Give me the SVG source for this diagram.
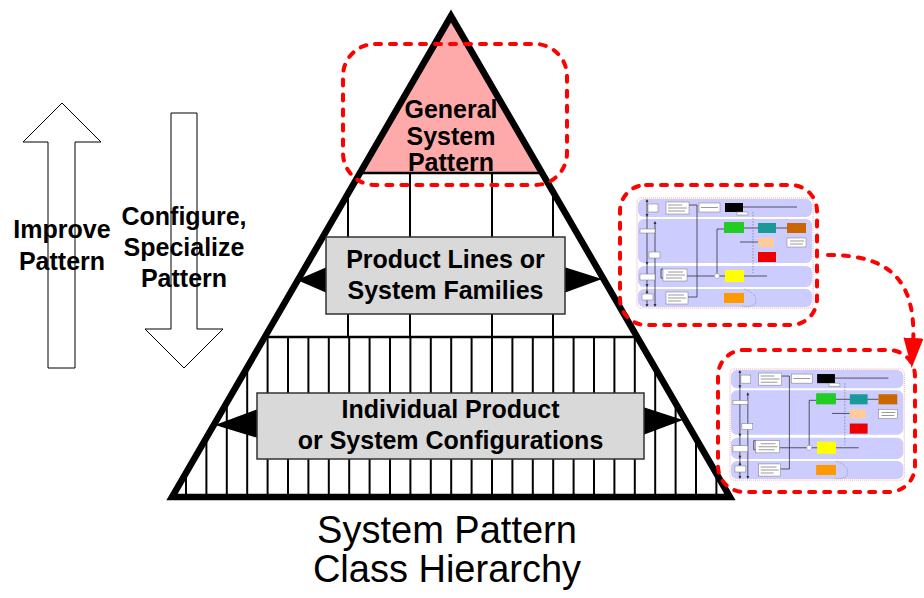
<svg xmlns="http://www.w3.org/2000/svg" width="924" height="598" viewBox="0 0 924 598">
<style>
  .b{font-family:"Liberation Sans",Arial,sans-serif;font-weight:bold;fill:#000;text-anchor:middle}
  .lbl{font-size:25px}
  .side{font-size:25px}
  .cap{font-family:"Liberation Sans",Arial,sans-serif;font-size:38px;text-anchor:middle;fill:#000}
  .box{fill:#D9D9D9;stroke:#333;stroke-width:1.5}
  .hollow{fill:#fff;stroke:#000;stroke-width:1}
  .reddash{fill:none;stroke:#FF0000;stroke-width:4;stroke-dasharray:6 9;stroke-linecap:round}
  .band{fill:#CCCCFF}
  .tl{stroke:#333;stroke-width:0.8;fill:none}
  .wb{fill:#fff;stroke:#777;stroke-width:0.5}
  .tx{stroke:#9a9a9a;stroke-width:1;fill:none}
  .head{fill:#000}
</style>
<defs>
  <clipPath id="tri">
    <polygon points="451,16 172,497 730,497"/>
  </clipPath>
  <marker id="redhead" markerUnits="userSpaceOnUse" viewBox="0 0 30 20" refX="8" refY="10" markerWidth="30" markerHeight="20" orient="auto">
    <path d="M0,0 L30,10 L0,20 z" fill="#FF0000"/>
  </marker>
  <g id="thumb">
    <rect x="0" y="0" width="176" height="110" rx="4" fill="#fff" stroke="#F09090" stroke-width="0.8" stroke-dasharray="1 1"/>
    <rect class="band" x="1" y="1" width="174" height="18" rx="6"/>
    <rect class="band" x="1" y="21" width="174" height="44" rx="6"/>
    <rect class="band" x="1" y="68" width="174" height="21" rx="6"/>
    <rect class="band" x="1" y="91" width="174" height="18" rx="6"/>
    <path class="tl" d="M10 2V108 M18 24V108 M52 7H60V99H51 M106 9H160 M107 30H150 M103 44H121 M50 78H130 M80 31V78 M80 31H87 M26 71H24V80H26"/>
    <path d="M116 14V75" stroke="#666" stroke-width="0.6" stroke-dasharray="1.5 1.5" fill="none"/>
    <path d="M107 91 Q122 96 118 106 Q112 110 105 108" fill="none" stroke="#666" stroke-width="0.5" stroke-dasharray="1 1"/>
    <path d="M10 1 L8.5 4 H11.5 Z M10 109 L8.5 106 H11.5 Z M18 23 L16.5 26 H19.5 Z M18 109 L16.5 106 H19.5 Z M10 19 L8.5 16 H11.5 Z M10 67 L8.5 64 H11.5 Z M10 89 L8.5 86 H11.5 Z M10 92 L8.5 95 H11.5 Z" fill="#333"/>
    <circle cx="80" cy="78" r="2.5" fill="#fff" stroke="#888" stroke-width="0.5"/>
    <rect class="wb" x="11" y="6" width="10" height="8"/>
    <rect class="wb" x="3" y="31" width="15" height="4"/>
    <rect class="wb" x="12" y="54" width="11" height="6"/>
    <rect class="wb" x="3" y="76" width="15" height="6"/>
    <rect class="wb" x="5" y="96" width="11" height="6"/>
    <rect class="wb" x="29" y="4" width="23" height="12"/>
    <rect class="wb" x="62" y="5" width="21" height="9"/>
    <rect x="88" y="5" width="18" height="9" fill="#000"/>
    <rect class="wb" x="100" y="14" width="11" height="3"/>
    <rect x="87" y="24" width="20" height="11" fill="#22CC22"/>
    <rect x="121" y="25" width="18" height="10" fill="#1A9999"/>
    <rect x="150" y="25" width="19" height="10" fill="#CC6600"/>
    <rect x="121" y="40" width="16" height="9" fill="#FFCC99"/>
    <rect class="wb" x="150" y="40" width="19" height="9"/>
    <rect x="121" y="54" width="18" height="10" fill="#EE0000"/>
    <rect x="88" y="72" width="19" height="12" fill="#FFFF00"/>
    <rect class="wb" x="26" y="71" width="24" height="12"/>
    <rect x="87" y="95" width="20" height="10" fill="#FF9900"/>
    <rect class="wb" x="29" y="94" width="22" height="12"/>
    <path class="tx" d="M31 7H45 M31 10H50 M31 13H48 M64 9.5H81 M31 74H46 M29 77H48 M29 80H45 M31 97H47 M31 100H49 M31 103H44 M153 43H167 M153 46H166"/>
  </g>
</defs>

<g id="pyramid">
  <polygon points="451,16 172,497 730,497" fill="#fff"/>
  <g clip-path="url(#tri)">
    <rect x="160" y="0" width="600" height="173" fill="#FFAAAA"/>
    <path d="M160 173H760 M160 337H760" stroke="#000" stroke-width="2.5" fill="none"/>
    <path d="M348 173V337 M410 173V337 M492 173V337 M553 173V337" stroke="#000" stroke-width="2" fill="none"/>
    <path d="M186 337V500 M206.4 337V500 M226.8 337V500 M247.2 337V500 M267.6 337V500 M288 337V500 M308.4 337V500 M328.8 337V500 M349.2 337V500 M369.6 337V500 M390 337V500 M410.4 337V500 M430.8 337V500 M451.2 337V500 M471.6 337V500 M492 337V500 M512.4 337V500 M532.8 337V500 M553.2 337V500 M573.6 337V500 M594 337V500 M614.4 337V500 M634.8 337V500 M655.2 337V500 M675.6 337V500 M696 337V500 M716.4 337V500" stroke="#000" stroke-width="2" fill="none"/>
  </g>
  <polygon points="451,16 172,497 730,497" fill="none" stroke="#000" stroke-width="6.5" stroke-linejoin="miter"/>
</g>

<g id="node-general">
  <text class="b lbl" x="451" y="118">General</text>
  <text class="b lbl" x="451" y="145">System</text>
  <text class="b lbl" x="451" y="171">Pattern</text>
  <rect class="reddash" x="343" y="44" width="224" height="141" rx="32"/>
</g>

<g id="node-product-lines">
  <polygon class="head" points="327,267 297,280 327,293"/>
  <polygon class="head" points="564,267 602,279 564,293"/>
  <rect class="box" x="326" y="237" width="239" height="77"/>
  <text class="b lbl" x="445.5" y="268">Product Lines or</text>
  <text class="b lbl" x="445.5" y="299">System Families</text>
</g>

<g id="node-individual">
  <polygon class="head" points="258,409 215,425 258,438"/>
  <polygon class="head" points="643,407 683,420 643,435"/>
  <rect class="box" x="257" y="393" width="387" height="66"/>
  <text class="b lbl" x="450.5" y="418">Individual Product</text>
  <text class="b lbl" x="450.5" y="449">or System Configurations</text>
</g>

<g id="arrow-improve">
  <polygon class="hollow" points="62,103 101,142 75,142 75,368 48,368 48,142 23,142"/>
  <text class="b side" x="62" y="238">Improve</text>
  <text class="b side" x="62" y="270">Pattern</text>
</g>

<g id="arrow-configure">
  <polygon class="hollow" points="171,113 197,113 197,329 223,329 184,368 145,329 171,329"/>
  <text class="b side" x="184" y="225">Configure,</text>
  <text class="b side" x="184" y="256">Specialize</text>
  <text class="b side" x="184" y="287">Pattern</text>
</g>

<g id="thumb-pattern">
  <use href="#thumb" transform="translate(637,198)"/>
  <rect class="reddash" x="620" y="185" width="197" height="140" rx="26"/>
</g>

<g id="thumb-configured">
  <use href="#thumb" transform="translate(730,369) scale(0.99,1.01)"/>
  <rect class="reddash" x="718" y="350" width="197" height="142" rx="26"/>
</g>

<g id="connectors">
  <path class="reddash" d="M828 255 C890 255 917 280 913 346" marker-end="url(#redhead)"/>
</g>

<g id="caption">
  <text class="cap" x="447" y="543">System Pattern</text>
  <text class="cap" x="447" y="582">Class Hierarchy</text>
</g>
</svg>
